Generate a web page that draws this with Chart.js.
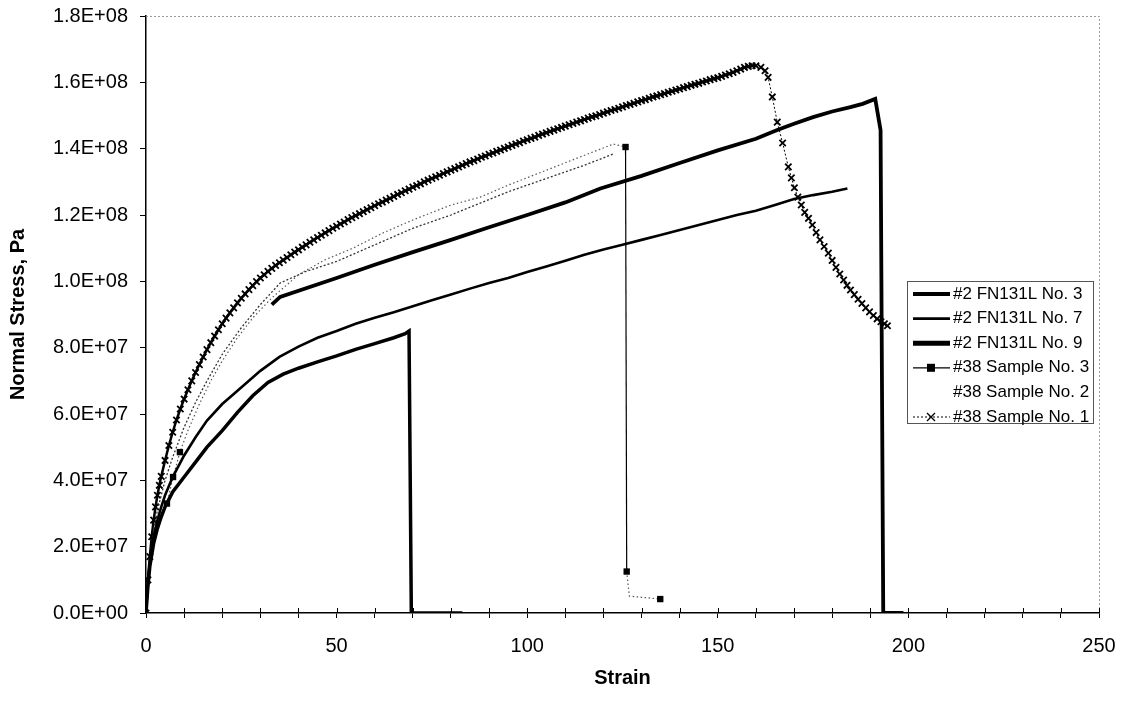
<!DOCTYPE html>
<html lang="en">
<head>
<meta charset="UTF-8">
<title>Normal Stress vs Strain</title>
<script src="https://cdn.jsdelivr.net/npm/chart.js"></script>
<style>
    body {
        margin: 0;
        background: #fff;
    }

    .chart-container {
        position: relative;
        width: 1125px;
        height: 703px;
    }
</style>
</head>
<body>
<div class="chart-container"><canvas id="stressChart"></canvas></div>
<script>
// stress values below are in units of 1e7 Pa
const seriesNames = ['#2 FN131L No. 3', '#2 FN131L No. 7', '#2 FN131L No. 9',
    '#38 Sample No. 3', '#38 Sample No. 2', '#38 Sample No. 1'];

const xTicks = [0, 50, 100, 150, 200, 250];

const no3Strain = [0, 0.5, 1, 2, 3, 4, 5, 7, 10, 13, 16, 20, 24, 28, 32, 36, 40, 45, 50, 55, 60, 65, 68, 69, 69.6, 83];
const no3Stress = [0, 0.8, 1.4, 2.1, 2.55, 2.9, 3.2, 3.65, 4.1, 4.55, 5.0, 5.5, 6.05, 6.55, 6.95, 7.2, 7.38, 7.57, 7.75, 7.95, 8.12, 8.3, 8.42, 8.5, 0, 0];

const no7Strain = [0, 0.5, 1, 2, 3, 4, 5, 7, 10, 13, 16, 20, 24, 27, 30, 35, 40, 45, 50, 55, 60, 65, 70, 75, 80, 85, 90, 95, 100,
    105, 110, 115, 120, 125, 130, 135, 140, 145, 150, 155, 160, 165, 170, 175, 180, 184];
const no7Stress = [0, 0.9, 1.5, 2.3, 2.8, 3.2, 3.55, 4.1, 4.75, 5.3, 5.8, 6.3, 6.7, 7.0, 7.3, 7.72, 8.03, 8.3, 8.5, 8.72, 8.9, 9.07, 9.25, 9.43, 9.6, 9.78, 9.95, 10.1, 10.28,
    10.45, 10.62, 10.8, 10.96, 11.1, 11.25, 11.4, 11.55, 11.7, 11.85, 12.0, 12.13, 12.3, 12.48, 12.6, 12.7, 12.8];

const no9Strain = [33, 35.2, 50, 60, 70, 80, 90, 100, 110, 119.2, 130, 140, 150, 160, 165.6, 170, 175, 180, 184.8, 188, 191.3, 192.7, 193.4, 198.7];
const no9Stress = [9.3, 9.53, 10.1, 10.5, 10.88, 11.25, 11.63, 12.0, 12.38, 12.8, 13.18, 13.57, 13.95, 14.3, 14.56, 14.75, 14.95, 15.12, 15.25, 15.35, 15.5, 14.56, 0, 0];

const s3Strain = [0, 0.5, 1, 2, 3, 4, 5.5, 7.1, 8.9, 11, 14, 17, 20, 24, 28, 33, 40, 47, 54.3, 62, 70, 80, 87.7, 95, 105, 115, 122.6, 125.8, 126.1, 126.8, 134.9];
const s3Stress = [0, 0.9, 1.5, 2.2, 2.7, 3.0, 3.3, 4.1, 4.85, 5.5, 6.3, 7.0, 7.6, 8.3, 8.9, 9.5, 10.2, 10.65, 11.0, 11.45, 11.85, 12.3, 12.54, 12.9, 13.35, 13.8, 14.14, 14.05, 1.25, 0.51, 0.42];

const s2Strain = [0, 1, 2, 3, 5, 7, 10, 13, 16, 20, 25, 30, 35.2, 42, 50, 60, 70, 80, 87.7, 95, 105, 115, 122.6];
const s2Stress = [0, 1.6, 2.5, 3.1, 4.0, 4.7, 5.6, 6.35, 7.0, 7.8, 8.6, 9.3, 9.95, 10.3, 10.6, 11.1, 11.6, 12.0, 12.36, 12.7, 13.1, 13.5, 13.84];

const s1Strain = [0, 0.5, 1, 1.5, 2, 2.5, 3, 3.5, 4, 5, 6, 7, 8, 9,
    10, 11, 12, 13, 14, 15, 16, 17, 18, 19, 20, 21, 22, 23, 24, 25, 26, 27, 28, 29,
    30, 31, 32, 33, 34, 35, 36, 37, 38, 39, 40, 41, 42, 43, 44, 45, 46, 47, 48, 49,
    50, 51, 52, 53, 54, 55, 56, 57, 58, 59, 60, 61, 62, 63, 64, 65, 66, 67, 68, 69,
    70, 71, 72, 73, 74, 75, 76, 77, 78, 79, 80, 81, 82, 83, 84, 85, 86, 87, 88, 89,
    90, 91, 92, 93, 94, 95, 96, 97, 98, 99, 100, 101, 102, 103, 104, 105, 106, 107, 108, 109,
    110, 111, 112, 113, 114, 115, 116, 117, 118, 119, 120, 121, 122, 123, 124, 125, 126, 127, 128, 129,
    130, 131, 132, 133, 134, 135, 136, 137, 138, 139, 140, 141, 142, 143, 144, 145, 146, 147, 148, 149,
    150, 151, 152, 153, 154, 155, 156, 157, 158, 159, 160,
    161.3, 162.4, 163.2, 164.3, 165.6, 167, 168.5, 169.3, 170.1, 171, 171.9, 172.8, 173.8, 174.8,
    175.8, 176.8, 177.9, 179, 180, 181, 182, 183, 183.9, 184.8, 185.8, 186.8, 187.8, 188.8,
    189.8, 190.8, 191.8, 192.8, 193.7, 194.5];
const s1Stress = [0, 1.0, 1.7, 2.3, 2.8, 3.2, 3.55, 3.85, 4.12, 4.6, 5.05, 5.45, 5.82, 6.15,
    6.45, 6.73, 7.0, 7.25, 7.49, 7.72, 7.94, 8.15, 8.35, 8.54, 8.72, 8.89, 9.05, 9.2, 9.35, 9.49, 9.62, 9.75, 9.87, 9.99,
    10.1, 10.2, 10.3, 10.39, 10.48, 10.56, 10.64, 10.72, 10.8, 10.88, 10.95, 11.03, 11.1, 11.18, 11.25, 11.32, 11.39, 11.46, 11.53, 11.6,
    11.66, 11.73, 11.79, 11.86, 11.92, 11.98, 12.04, 12.1, 12.16, 12.22, 12.28, 12.34, 12.39, 12.45, 12.5, 12.56, 12.62, 12.67, 12.73, 12.78,
    12.84, 12.89, 12.94, 13.0, 13.05, 13.1, 13.15, 13.2, 13.25, 13.3, 13.35, 13.4, 13.45, 13.5, 13.55, 13.6, 13.64, 13.69, 13.74, 13.78,
    13.83, 13.87, 13.92, 13.96, 14.01, 14.05, 14.1, 14.14, 14.18, 14.23, 14.27, 14.31, 14.35, 14.4, 14.44, 14.48, 14.52, 14.56, 14.6, 14.64,
    14.68, 14.72, 14.76, 14.8, 14.84, 14.88, 14.92, 14.96, 14.99, 15.03, 15.07, 15.11, 15.15, 15.18, 15.22, 15.26, 15.3, 15.33, 15.37, 15.41,
    15.45, 15.48, 15.52, 15.56, 15.59, 15.63, 15.66, 15.7, 15.73, 15.77, 15.8, 15.84, 15.87, 15.91, 15.94, 15.97, 16.01, 16.04, 16.08, 16.11,
    16.14, 16.18, 16.22, 16.26, 16.3, 16.35, 16.4, 16.45, 16.48, 16.5, 16.5,
    16.45, 16.35, 16.15, 15.56, 14.8, 14.17, 13.45, 13.12, 12.82, 12.54, 12.3, 12.08, 11.9, 11.7,
    11.47, 11.25, 11.05, 10.85, 10.63, 10.42, 10.22, 10.04, 9.88, 9.74, 9.6, 9.46, 9.33, 9.2,
    9.08, 8.97, 8.87, 8.78, 8.72, 8.66];

// square markers on sample 3 only at these points
const s3MarkerAt = [6, 7, 8, 27, 28, 30];
const s3DropIndex = 27;

const toPoints = (xs, ys) => xs.map((x, i) => ({ x: x, y: ys[i] * 1e7 }));

function sciLabel(v) {
    if (v === 0) return '0.0E+00';
    const [m, e] = v.toExponential(1).split('e');
    const n = parseInt(e, 10);
    return m + 'E' + (n < 0 ? '-' : '+') + String(Math.abs(n)).padStart(2, '0');
}

const FONT = '"Liberation Sans", Arial, sans-serif';

// dotted top/right plot edges and the inner half of the x tick marks
const frame = {
    id: 'frame',
    beforeDatasetsDraw(chart) {
        const { ctx, chartArea: a, scales: { x } } = chart;
        ctx.save();
        ctx.strokeStyle = '#9a9a9a';
        ctx.lineWidth = 1;
        ctx.setLineDash([2, 2]);
        ctx.beginPath();
        ctx.moveTo(a.left, a.top + 0.5);
        ctx.lineTo(a.right + 0.5, a.top + 0.5);
        ctx.lineTo(a.right + 0.5, a.bottom);
        ctx.stroke();
        ctx.setLineDash([]);
        ctx.strokeStyle = '#000';
        ctx.beginPath();
        x.ticks.forEach(t => {
            const px = Math.round(x.getPixelForValue(t.value)) + 0.5;
            ctx.moveTo(px, a.bottom - 5);
            ctx.lineTo(px, a.bottom);
        });
        ctx.stroke();
        ctx.restore();
    }
};

function drawMarker(ctx, style, cx, cy, r) {
    if (style === 'rect') {
        ctx.fillRect(cx - r, cy - r, 2 * r, 2 * r);
    } else if (style === 'crossRot') {
        ctx.beginPath();
        ctx.moveTo(cx - r, cy - r); ctx.lineTo(cx + r, cy + r);
        ctx.moveTo(cx + r, cy - r); ctx.lineTo(cx - r, cy + r);
        ctx.stroke();
    }
}

// boxed legend inside the plot, right side
const sideLegend = {
    id: 'sideLegend',
    afterDraw(chart) {
        const { ctx, chartArea: a } = chart;
        const left = a.right - 192, top = a.top + 265, w = 186, h = 142, rowH = 24.6;
        ctx.save();
        ctx.strokeStyle = '#555';
        ctx.lineWidth = 1;
        ctx.strokeRect(left + 0.5, top + 0.5, w, h);
        chart.data.datasets.forEach((ds, i) => {
            const y = top + 13 + i * rowH;
            if (ds.legendLine) {
                ctx.strokeStyle = '#000';
                ctx.fillStyle = '#000';
                ctx.lineWidth = ds.legendWidth;
                ctx.setLineDash(ds.legendDash || []);
                ctx.beginPath();
                ctx.moveTo(left + 6, y);
                ctx.lineTo(left + 43, y);
                ctx.stroke();
                ctx.setLineDash([]);
                if (ds.legendMarker) {
                    ctx.lineWidth = 1.3;
                    drawMarker(ctx, ds.legendMarker, left + 24, y, 4);
                }
            }
            ctx.fillStyle = '#000';
            ctx.font = '17px ' + FONT;
            ctx.textBaseline = 'middle';
            ctx.textAlign = 'left';
            ctx.fillText(ds.label, left + 46, y);
        });
        ctx.restore();
    }
};

const ctx = document.getElementById('stressChart').getContext('2d');
const chart = new Chart(ctx, {
    type: 'line',
    data: {
        datasets: [
            {
                label: seriesNames[0],
                data: toPoints(no3Strain, no3Stress),
                borderColor: '#000',
                borderWidth: 3.5,
                pointRadius: 0,
                legendLine: true,
                legendWidth: 4
            },
            {
                label: seriesNames[1],
                data: toPoints(no7Strain, no7Stress),
                borderColor: '#000',
                borderWidth: 2.6,
                pointRadius: 0,
                legendLine: true,
                legendWidth: 2.7
            },
            {
                label: seriesNames[2],
                data: toPoints(no9Strain, no9Stress),
                borderColor: '#000',
                borderWidth: 3.8,
                pointRadius: 0,
                legendLine: true,
                legendWidth: 5
            },
            {
                label: seriesNames[3],
                data: toPoints(s3Strain, s3Stress),
                borderColor: '#000',
                borderWidth: 1.2,
                pointStyle: 'rect',
                pointRadius: s3Strain.map((_, i) => s3MarkerAt.includes(i) ? 4.5 : 0),
                pointBackgroundColor: '#000',
                pointBorderWidth: 0,
                segment: {
                    borderDash: c => c.p0DataIndex === s3DropIndex ? [] : [1.5, 2.5],
                    borderColor: c => c.p0DataIndex === s3DropIndex ? '#000' : '#555'
                },
                legendLine: true,
                legendWidth: 1.3,
                legendMarker: 'rect'
            },
            {
                label: seriesNames[4],
                data: toPoints(s2Strain, s2Stress),
                borderColor: '#333',
                borderWidth: 1.3,
                borderDash: [2, 2],
                pointRadius: 0,
                legendLine: false
            },
            {
                label: seriesNames[5],
                data: toPoints(s1Strain, s1Stress),
                borderColor: '#000',
                borderWidth: 2.5,
                pointStyle: 'crossRot',
                pointRadius: 4.5,
                pointBorderWidth: 1.8,
                pointBorderColor: '#000',
                legendLine: true,
                legendWidth: 1,
                legendDash: [2, 2],
                legendMarker: 'crossRot',
                // thin dotted line once the points spread out past the peak
                segment: {
                    borderWidth: c => c.p0.parsed.x >= 160 ? 1 : undefined,
                    borderDash: c => c.p0.parsed.x >= 160 ? [2, 2] : undefined
                }
            }
        ]
    },
    options: {
        responsive: true,
        maintainAspectRatio: false,
        animation: false,
        layout: { padding: { left: 6, right: 26, top: 16, bottom: 8 } },
        scales: {
            x: {
                type: 'linear',
                min: 0,
                max: 250,
                border: { color: '#000', width: 1.5 },
                grid: { drawOnChartArea: false, color: '#000', tickLength: 5 },
                ticks: {
                    stepSize: 10,
                    autoSkip: false,
                    maxRotation: 0,
                    padding: 16,
                    color: '#000',
                    font: { family: FONT, size: 20 },
                    callback: v => xTicks.includes(v) ? String(v) : ''
                },
                title: {
                    display: true,
                    text: 'Strain',
                    color: '#000',
                    font: { family: FONT, size: 20, weight: 'bold' },
                    padding: { top: 0, bottom: 5 }
                },
                afterFit: s => {
                    s.height = 82;
                    s.paddingLeft = 0;
                    s.paddingRight = 0;
                }
            },
            y: {
                min: 0,
                max: 1.8e8,
                border: { color: '#000', width: 1.5 },
                grid: { drawOnChartArea: false, color: '#000', tickLength: 6 },
                ticks: {
                    stepSize: 2e7,
                    padding: 12,
                    color: '#000',
                    font: { family: FONT, size: 20 },
                    callback: v => sciLabel(v)
                },
                title: {
                    display: true,
                    text: 'Normal Stress, Pa',
                    color: '#000',
                    font: { family: FONT, size: 20, weight: 'bold' },
                    padding: { top: 0, bottom: 0 }
                },
                afterFit: s => {
                    s.width = 140;
                    s.paddingTop = 0;
                    s.paddingBottom = 0;
                }
            }
        },
        plugins: {
            legend: { display: false },
            tooltip: { enabled: false }
        }
    },
    plugins: [frame, sideLegend]
});
</script>
</body>
</html>
